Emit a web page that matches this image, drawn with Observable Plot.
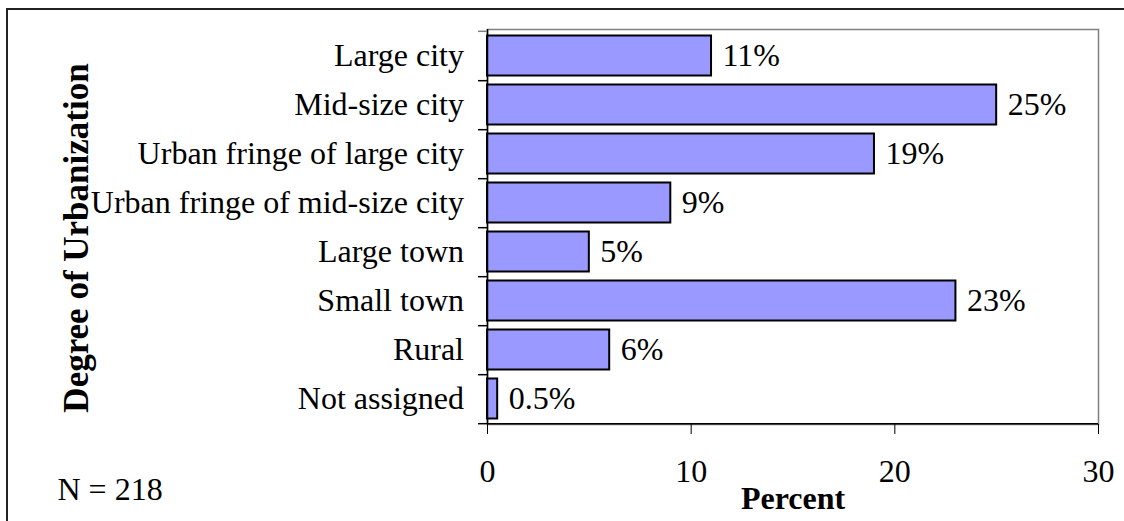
<!DOCTYPE html>
<html>
<head>
<meta charset="utf-8">
<script src="https://cdn.jsdelivr.net/npm/d3@7"></script>
<script src="https://cdn.jsdelivr.net/npm/@observablehq/plot@0.6"></script>
<style>
  body { margin: 0; background: #fff; }
  #wrap { position: relative; width: 1124px; height: 521px; overflow: hidden; background: #fff; }
  #border { position: absolute; left: 6px; top: 8px; width: 1300px; height: 700px; border: 2px solid #222; box-sizing: border-box; pointer-events: none; }
</style>
</head>
<body>
<div id="wrap"><div id="chart"></div><div id="border"></div></div>
<script>
const categories = [
  "Large city",
  "Mid-size city",
  "Urban fringe of large city",
  "Urban fringe of mid-size city",
  "Large town",
  "Small town",
  "Rural",
  "Not assigned"
];
const values = [11, 25, 19, 9, 5, 23, 6, 0.5];
const valueLabels = ["11%", "25%", "19%", "9%", "5%", "23%", "6%", "0.5%"];
const xTicks = [0, 10, 20, 30];
const xDomain = [0, 30];
const yTitle = "Degree of Urbanization";
const xTitle = "Percent";
const note = "N = 218";

const data = categories.map((c, i) => ({category: c, value: values[i], label: valueLabels[i]}));

const W = 1124, H = 521, mt = 29, mb = 97, ml = 487, mr = 26;
const bw = (H - mt - mb) / categories.length;
const font = "'Liberation Serif', 'Times New Roman', Times, serif";

const chart = Plot.plot({
  width: W,
  height: H,
  marginTop: mt,
  marginBottom: mb,
  marginLeft: ml,
  marginRight: mr,
  style: {fontFamily: font, fontSize: "32px", color: "#000", background: "#fff", overflow: "visible"},
  x: {domain: xDomain, ticks: xTicks},
  y: {domain: categories, padding: 0},
  marks: [
    Plot.frame({stroke: "#808080", strokeWidth: 1.5}),
    Plot.barX(data, {x: "value", y: "category", fill: "#9999ff", stroke: "#000", strokeWidth: 2, insetTop: 4.5, insetBottom: 4.5}),
    Plot.ruleX([xDomain[0]], {stroke: "#000", strokeWidth: 1.5}),
    Plot.ruleY([categories[categories.length - 1]], {x1: xDomain[0], x2: xDomain[1], dy: bw / 2, stroke: "#000", strokeWidth: 1.5}),
    Plot.axisY({tickSize: 9, text: null, dy: bw / 2, stroke: "#000", strokeWidth: 1.5, label: null}),
    Plot.axisY([categories[0]], {tickSize: 9, text: null, dy: -bw / 2, stroke: "#808080", strokeWidth: 1.5, label: null}),
    Plot.axisY({tickSize: 0, tickPadding: 23.5, label: null, fill: "#000"}),
    Plot.axisX({ticks: xTicks, tickSize: 10, tickPadding: 25, label: null, stroke: "#000", fill: "#000"}),
    Plot.text(data, {x: "value", y: "category", text: "label", textAnchor: "start", dx: 11, fill: "#000"}),
    Plot.text([yTitle], {frameAnchor: "left", textAnchor: "middle", lineAnchor: "middle", rotate: -90, dx: -411, dy: 11, fontSize: 35, fontWeight: "bold", fill: "#000"}),
    Plot.text([xTitle], {frameAnchor: "bottom", textAnchor: "middle", lineAnchor: "middle", dy: 73.8, fontWeight: "bold", fill: "#000"}),
    Plot.text([note], {frameAnchor: "bottom-left", textAnchor: "start", lineAnchor: "middle", dx: -430, dy: 65.1, fill: "#000"})
  ]
});
document.getElementById("chart").appendChild(chart);
</script>
</body>
</html>
